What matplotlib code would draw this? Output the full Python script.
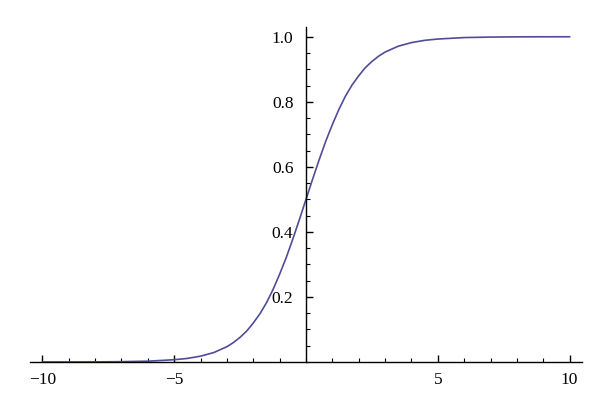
import numpy as np
import matplotlib.pyplot as plt
from matplotlib.ticker import MultipleLocator

# values
x = [-10, -9, -8, -7, -6, -5, -4.5, -4, -3.5, -3, -2.75, -2.5, -2.25, -2, -1.75,
     -1.5, -1.25, -1, -0.75, -0.5, -0.25, 0, 0.25, 0.5, 0.75, 1, 1.25, 1.5,
     1.75, 2, 2.25, 2.5, 2.75, 3, 3.5, 4, 4.5, 5, 6, 7, 8, 9, 10]
y = [0.0000, 0.0001, 0.0003, 0.001, 0.0025, 0.007, 0.011, 0.018, 0.029, 0.047,
     0.060, 0.076, 0.095, 0.12, 0.148, 0.182, 0.223, 0.27, 0.321, 0.378, 0.438,
     0.5, 0.562, 0.622, 0.679, 0.73, 0.777, 0.818, 0.852, 0.88, 0.905, 0.924,
     0.940, 0.953, 0.971, 0.982, 0.989, 0.993, 0.9975, 0.999, 0.9997, 0.9999, 1.0]

xticks = [-10, -5, 5, 10]
xticklabels = ['\u221210', '\u22125', '5', '10']
yticks = [0.2, 0.4, 0.6, 0.8, 1.0]
yticklabels = ['0.2', '0.4', '0.6', '0.8', '1.0']

plt.rcParams['font.family'] = ['Liberation Serif', 'DejaVu Serif']

fig = plt.figure(figsize=(6.13, 3.93), dpi=100)
ax = fig.add_axes([30 / 613, 31 / 393, 552 / 613, 335 / 393])

ax.plot(x, y, color='#4f4d96', linewidth=1.2)

ax.set_xlim(-10.47, 10.47)
ax.set_ylim(0, 1.03)

ax.spines['left'].set_position(('data', 0))
ax.spines['bottom'].set_position(('data', 0))
ax.spines['right'].set_visible(False)
ax.spines['top'].set_visible(False)
for s in ['left', 'bottom']:
	ax.spines[s].set_linewidth(1.0)

ax.set_xticks(xticks)
ax.set_xticklabels(xticklabels)
ax.set_yticks(yticks)
ax.set_yticklabels(yticklabels)
ax.xaxis.set_minor_locator(MultipleLocator(1))
ax.yaxis.set_minor_locator(MultipleLocator(0.05))

ax.tick_params(axis='x', which='both', direction='in', labelsize=12.5, pad=7)
ax.tick_params(axis='y', which='both', direction='in', labelsize=12.5, pad=9)
ax.tick_params(which='major', length=5, width=1)
ax.tick_params(which='minor', length=3, width=0.8)

fig.savefig('out.png', dpi=100)
